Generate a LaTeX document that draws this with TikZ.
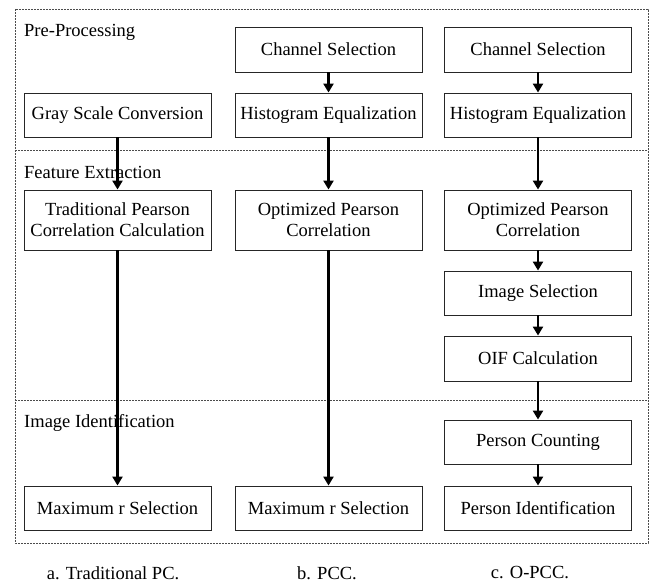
\documentclass[tikz,border=0pt]{standalone}
\usepackage{fontspec}
\setmainfont{Liberation Serif}
\usetikzlibrary{arrows.meta}
\begin{document}
\begin{tikzpicture}[x=1pt,y=-1pt,
  stepbox/.style={draw=black!85,line width=0.9pt,minimum width=187pt,inner sep=0pt,
    align=center,font=\fontsize{18.5}{21}\selectfont,anchor=center},
  lab/.style={font=\fontsize{18.5}{21}\selectfont,anchor=west,inner sep=0pt},
  frame/.style={draw=black!70,line width=0.8pt,dash pattern=on 2pt off 1pt},
  flow/.style={line width=2.4pt,-{Triangle[width=10pt,length=9pt]}}]
\useasboundingbox (0,0) rectangle (654,585);
% frame and separators
\draw[frame] (15,9) rectangle (648,543);
\coordinate (s1l) at (15,150); \coordinate (s1r) at (648,150);
\coordinate (s2l) at (15,400); \coordinate (s2r) at (648,400);
\draw[frame] (s1l) -- (s1r);
\draw[frame] (s2l) -- (s2r);
% section labels
\node[lab] (l1) at (24,32) {Pre-Processing};
\node[lab] (l2) at (24,172) {Feature Extraction};
\node[lab] (l3) at (24,423) {Image Identification};
% column a
\node[stepbox,minimum height=44pt] (a1) at (117.5,115) {Gray Scale Conversion};
\node[stepbox,minimum height=60pt] (a2) at (117.5,220) {Traditional Pearson\\Correlation Calculation};
\node[stepbox,minimum height=44pt] (a3) at (117.5,508) {Maximum r Selection};
% column b
\node[stepbox,minimum height=45pt] (b0) at (328.5,49.5) {Channel Selection};
\node[stepbox,minimum height=44pt] (b1) at (328.5,115) {Histogram Equalization};
\node[stepbox,minimum height=60pt] (b2) at (328.5,220) {Optimized Pearson\\Correlation};
\node[stepbox,minimum height=44pt] (b3) at (328.5,508) {Maximum r Selection};
% column c
\node[stepbox,minimum height=45pt] (c0) at (538,49.5) {Channel Selection};
\node[stepbox,minimum height=44pt] (c1) at (538,115) {Histogram Equalization};
\node[stepbox,minimum height=60pt] (c2) at (538,220) {Optimized Pearson\\Correlation};
\node[stepbox,minimum height=44pt] (c3) at (538,293) {Image Selection};
\node[stepbox,minimum height=45pt] (c4) at (538,358.5) {OIF Calculation};
\node[stepbox,minimum height=44pt] (c5) at (538,442) {Person Counting};
\node[stepbox,minimum height=44pt] (c6) at (538,508) {Person Identification};
% arrows
\draw[flow] (a1) -- (a2);
\draw[flow] (a2) -- (a3);
\draw[flow] (b0) -- (b1);
\draw[flow] (b1) -- (b2);
\draw[flow] (b2) -- (b3);
\draw[flow] (c0) -- (c1);
\draw[flow] (c1) -- (c2);
\draw[flow] (c2) -- (c3);
\draw[flow] (c3) -- (c4);
\draw[flow] (c4) -- (c5);
\draw[flow] (c5) -- (c6);
% captions
\node[font=\fontsize{18.5}{21}\selectfont,inner sep=0pt] (ca) at (113,573) {a. Traditional PC.};
\node[font=\fontsize{18.5}{21}\selectfont,inner sep=0pt] (cb) at (327,573) {b. PCC.};
\node[font=\fontsize{18.5}{21}\selectfont,inner sep=0pt] (cc) at (530,573) {c. O-PCC.};
\end{tikzpicture}
\end{document}
